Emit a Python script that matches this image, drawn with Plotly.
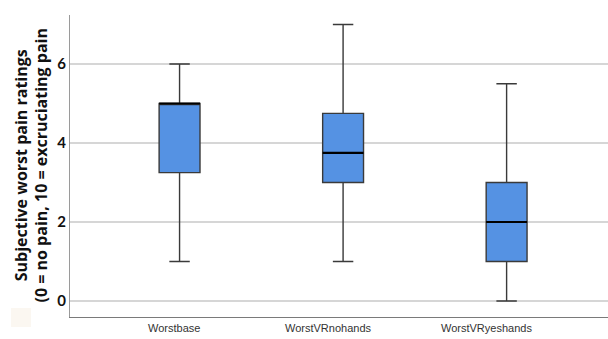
import plotly.graph_objects as go

# Summary statistics per condition (pain rating 0-10)
categories = ["Worstbase", "WorstVRnohands", "WorstVRyeshands"]
lower_whisker = [1.0, 1.0, 0.0]
q1_values = [3.25, 3.0, 1.0]
median_values = [5.0, 3.75, 2.0]
q3_values = [5.0, 4.75, 3.0]
upper_whisker = [6.0, 7.0, 5.5]
y_ticks = [0, 2, 4, 6]

# where the category captions sit along the bottom (paper fraction)
label_pos = [0.193, 0.481, 0.774]

x_pos = list(range(len(categories)))
box_width = 0.25

fig = go.Figure()

fig.add_trace(go.Box(
    x=x_pos,
    q1=q1_values,
    median=median_values,
    q3=q3_values,
    lowerfence=lower_whisker,
    upperfence=upper_whisker,
    width=box_width,
    whiskerwidth=0.5,
    fillcolor="#5592e3",
    line=dict(color="#3a3a3a", width=1.4),
    boxpoints=False,
    hoverinfo="skip",
    showlegend=False,
))

# darker, heavier median bars
for xi, med in zip(x_pos, median_values):
    fig.add_trace(go.Scatter(
        x=[xi - box_width / 2, xi + box_width / 2],
        y=[med, med],
        mode="lines",
        line=dict(color="#000000", width=2.2),
        hoverinfo="skip",
        showlegend=False,
    ))

for name, px in zip(categories, label_pos):
    fig.add_annotation(
        text=name, xref="paper", yref="paper", x=px, y=-0.036,
        xanchor="center", yanchor="middle", showarrow=False,
        font=dict(family="Liberation Sans, Arial", size=11, color="#333333"),
    )

fig.add_annotation(
    text="Subjective worst pain ratings<br>(0 = no pain, 10 = excruciating pain",
    xref="paper", yref="paper", x=-0.0734, y=0.5,
    xanchor="center", yanchor="middle", textangle=-90, showarrow=False,
    font=dict(family="Open Sans", size=16, color="#111111", weight="bold"),
)

# faint patch in the lower-left corner
fig.add_shape(type="rect", xref="paper", yref="paper",
              x0=-0.1097, x1=-0.0725, y0=0.03, y1=-0.033,
              line=dict(width=0), fillcolor="#fbf7f1", layer="below")

fig.update_layout(
    width=608, height=339,
    margin=dict(l=70, r=0, t=15, b=22),
    paper_bgcolor="white",
    plot_bgcolor="white",
    xaxis=dict(
        range=[-0.67, 2.62],
        showticklabels=False,
        showgrid=False,
        zeroline=False,
        showline=True,
        linecolor="#7a7a7a",
        linewidth=1.3,
        ticks="",
    ),
    yaxis=dict(
        range=[-0.405, 7.24],
        tickvals=y_ticks,
        ticktext=[str(v) for v in y_ticks],
        tickfont=dict(family="Lato", size=15, color="#111111", weight="bold"),
        showgrid=True,
        gridcolor="#d6d6d6",
        gridwidth=1.5,
        zeroline=False,
        showline=True,
        linecolor="#9a9a9a",
        linewidth=1.2,
        ticks="",
    ),
)

fig.write_html("out.html")
